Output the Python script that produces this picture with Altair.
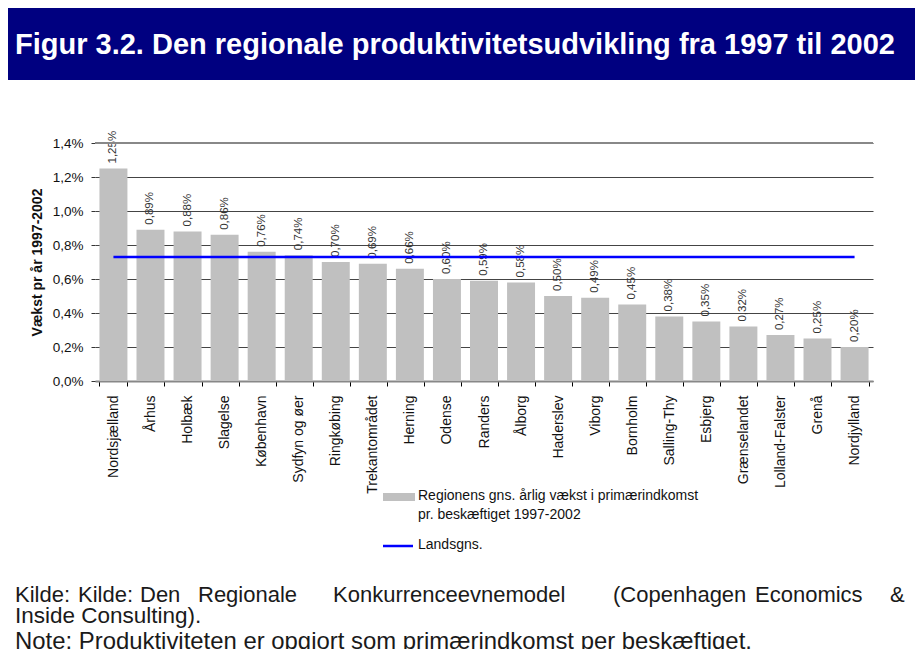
import altair as alt
import pandas as pd

# ---- data ----
regions = ["Nordsjælland", "Århus", "Holbæk", "Slagelse", "København", "Sydfyn og øer",
           "Ringkøbing", "Trekantområdet", "Herning", "Odense", "Randers", "Ålborg",
           "Haderslev", "Viborg", "Bornholm", "Salling-Thy", "Esbjerg", "Grænselandet",
           "Lolland-Falster", "Grenå", "Nordjylland"]
growth = [1.25, 0.89, 0.88, 0.86, 0.76, 0.74, 0.70, 0.69, 0.66, 0.60, 0.59, 0.58,
          0.50, 0.49, 0.45, 0.38, 0.35, 0.32, 0.27, 0.25, 0.20]
national_avg = 0.73
y_ticks = [0.0, 0.2, 0.4, 0.6, 0.8, 1.0, 1.2, 1.4]

title_text = "Figur 3.2. Den regionale produktivitetsudvikling fra 1997 til 2002"
y_title = "Vækst pr år 1997-2002"
legend_bar = "Regionens gns. årlig vækst i primærindkomst\npr. beskæftiget 1997-2002"
legend_line = "Landsgns."
source_words = ["Kilde:", "Kilde:", "Den", "Regionale", "Konkurrenceevnemodel",
                "(Copenhagen", "Economics", "&"]
source_line2 = "Inside Consulting)."
note_line = "Note: Produktiviteten er opgjort som primærindkomst per beskæftiget."

# ---- layout (pixels relative to plot area) ----
W, H = 778, 238
word_x = [-80, -17, 45, 103, 238, 518, 660, 795]

FONT = "Liberation Sans"
df = pd.DataFrame({"region": regions, "value": growth})
one = pd.DataFrame({"k": [0]})

x_axis = alt.Axis(title=None, labelAngle=-90, labelAlign="right",
                  labelBaseline="middle", labelFontSize=14,
                  labelColor="#111111", labelFont=FONT, labelPadding=9,
                  labelOverlap=False,
                  tickBand="extent", ticks=True, tickColor="#000000",
                  tickSize=5, tickWidth=1, domain=True,
                  domainColor="#888888", domainWidth=2)
y_axis = alt.Axis(values=y_ticks, title=y_title, titleFont=FONT,
                  titleFontSize=14, titleFontWeight="bold",
                  titleColor="#111111", titleX=-58, titleY=H / 2,
                  titleAngle=270, titleAlign="center",
                  titleBaseline="middle", labelOverlap=False,
                  labelExpr="replace(format(datum.value, '.1f'), '.', ',') + '%'",
                  labelFontSize=13.5, labelFont=FONT, labelColor="#111111",
                  labelPadding=8, tickSize=4, tickColor="#333333",
                  domain=False, grid=True, gridColor="#444444", gridWidth=1)
x_scale = alt.Scale(paddingInner=0.245, paddingOuter=0.12)
y_scale = alt.Scale(domain=[0, 1.4])

bars = alt.Chart(df).mark_bar(color="#C0C0C0").encode(
    x=alt.X("region:N", sort=None, scale=x_scale, axis=x_axis, title=None),
    y=alt.Y("value:Q", scale=y_scale, axis=y_axis, title=y_title))

labels = alt.Chart(df).mark_text(angle=270, align="left", baseline="middle", dx=5,
                                 fontSize=11.5, font=FONT, color="#333333").encode(
    x=alt.X("region:N", sort=None, scale=x_scale, axis=x_axis, title=None),
    y=alt.Y("value:Q", scale=y_scale, axis=y_axis, title=y_title),
    text=alt.Text("lbl:N"),
).transform_calculate(lbl="replace(format(datum.value, '.2f'), '.', ',') + '%'")

top_rule = alt.Chart(one).mark_rule(color="#888888", strokeWidth=2).encode(
    y=alt.YDatum(1.4, scale=y_scale, axis=y_axis, title=y_title))

nat = alt.Chart(one).mark_rule(color="#0000FF", strokeWidth=2.5).encode(
    x=alt.XDatum(regions[0], scale=x_scale, axis=x_axis, title=None),
    x2=alt.X2Datum(regions[-1]),
    y=alt.YDatum(national_avg, scale=y_scale, axis=y_axis, title=y_title))

title_bg = alt.Chart(one).mark_rect(color="#000080").encode(
    x=alt.value(-95), x2=alt.value(828), y=alt.value(-140), y2=alt.value(-63))
title = alt.Chart(one).mark_text(align="left", baseline="alphabetic", font=FONT,
                                 fontSize=29, fontWeight="bold", color="white").encode(
    x=alt.value(-80), y=alt.value(-89), text=alt.value(title_text))

leg_sw = alt.Chart(one).mark_rect(color="#C0C0C0").encode(
    x=alt.value(288), x2=alt.value(320), y=alt.value(350), y2=alt.value(358))
leg_t1 = alt.Chart(one).mark_text(align="left", baseline="middle", font=FONT,
                                  fontSize=14, color="#111111", lineBreak="\n",
                                  lineHeight=19).encode(
    x=alt.value(323), y=alt.value(353), text=alt.value(legend_bar))
leg_ln = alt.Chart(one).mark_rule(color="#0000FF", strokeWidth=2.5).encode(
    x=alt.value(288), x2=alt.value(318), y=alt.value(403))
leg_t2 = alt.Chart(one).mark_text(align="left", baseline="middle", font=FONT,
                                  fontSize=14, color="#111111").encode(
    x=alt.value(323), y=alt.value(402), text=alt.value(legend_line))

foot_layers = []
for w, px in zip(source_words, word_x):
    foot_layers.append(alt.Chart(one).mark_text(align="left", baseline="alphabetic",
                                                font=FONT, fontSize=22,
                                                color="#1a1a1a").encode(
        x=alt.value(px), y=alt.value(459), text=alt.value(w)))
for txt, yy, fs in [(source_line2, 480, 22.5), (note_line, 506, 23.9)]:
    foot_layers.append(alt.Chart(one).mark_text(align="left", baseline="alphabetic",
                                                font=FONT, fontSize=fs,
                                                color="#1a1a1a").encode(
        x=alt.value(-80), y=alt.value(yy), text=alt.value(txt)))

chart = alt.layer(bars, labels, top_rule, nat, title_bg, title, leg_sw, leg_t1,
                  leg_ln, leg_t2, *foot_layers).properties(
    width=W, height=H,
    padding={"left": 87, "top": 135, "right": 42, "bottom": 268},
    autosize=alt.AutoSizeParams(type="none"),
    background="white",
).configure_view(stroke=None)

chart.save("out.html", embed_options={"renderer": "svg", "actions": False})
